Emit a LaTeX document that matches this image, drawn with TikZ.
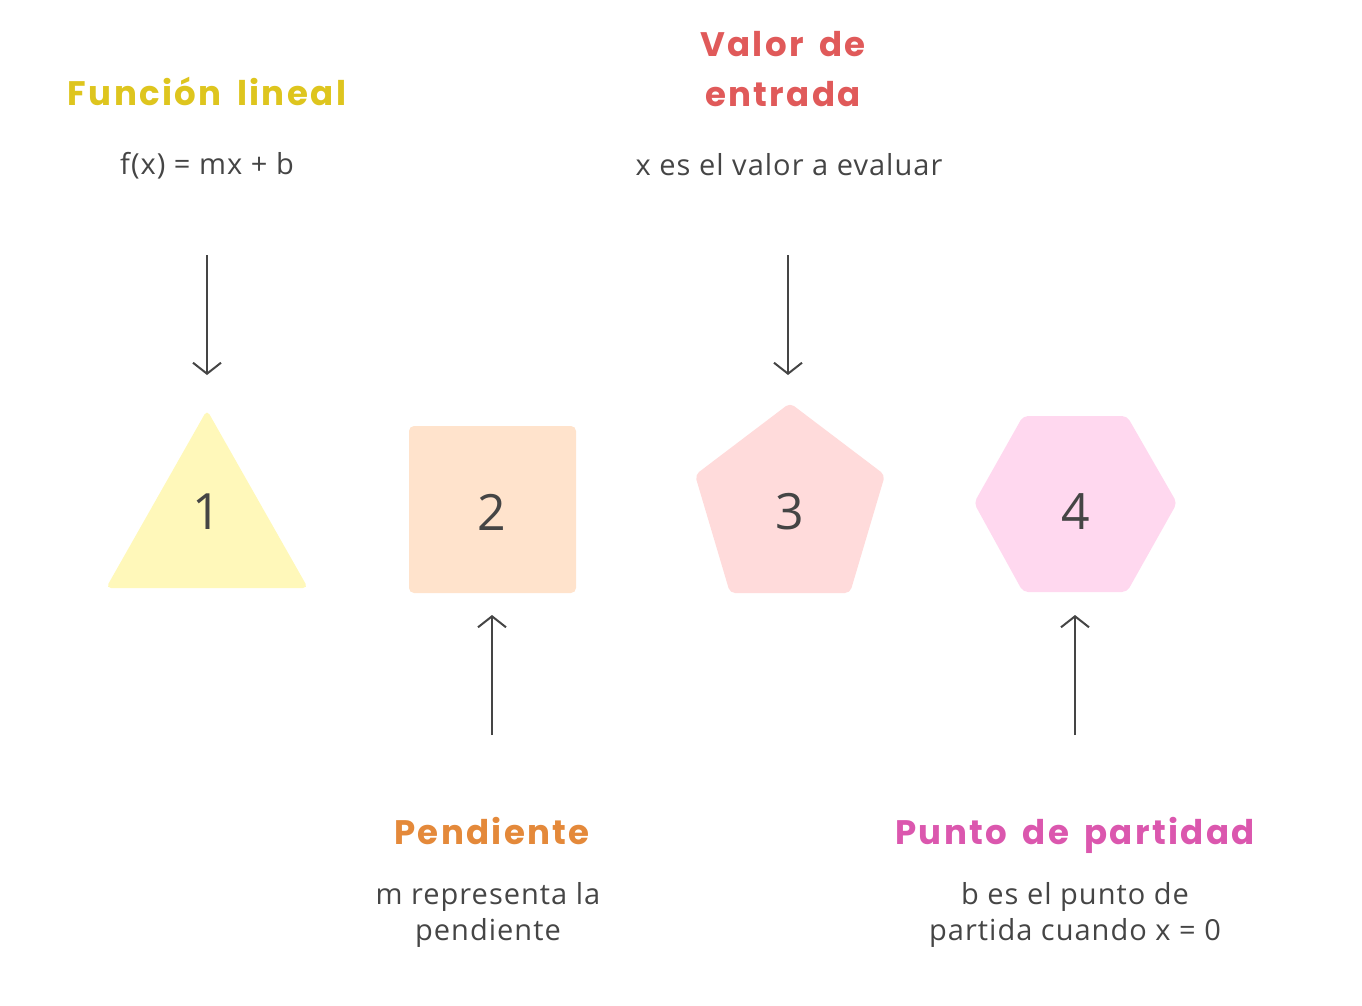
\documentclass[tikz,border=0pt]{standalone}
\usepackage{fontspec}
\setmainfont{Open Sans}[LetterSpace=3.5]
\newfontfamily\titlefont{Poppins}[LetterSpace=7,WordSpace=1.6]
\newfontfamily\numfont{Open Sans}
\usetikzlibrary{arrows.meta}
\definecolor{ink}{HTML}{454545}
\definecolor{tyellow}{HTML}{DEC51E}
\definecolor{tred}{HTML}{E05A5A}
\definecolor{torange}{HTML}{E4893A}
\definecolor{tpink}{HTML}{DB57AE}
\definecolor{fyellow}{HTML}{FFF8BA}
\definecolor{forange}{HTML}{FFE3CC}
\definecolor{fred}{HTML}{FFDBDB}
\definecolor{fpink}{HTML}{FFD8EF}
\tikzset{
  title/.style={font=\titlefont\bfseries\fontsize{34}{50}\selectfont, align=center, inner sep=0pt},
  body/.style={font=\fontsize{29}{36}\selectfont, text=ink, align=center, inner sep=0pt},
  shapefill/.style={rounded corners=5pt, draw=none},
  numlabel/.style={font=\numfont\fontsize{50}{52}\selectfont, text=ink, inner sep=0pt},
  link/.style={draw=ink, line width=2pt, -{Straight Barb[length=11pt,width=28pt,line width=2pt]}}
}
\begin{document}
\begin{tikzpicture}[x=1pt,y=-1pt]
\useasboundingbox (0,0) rectangle (1362,1006);
% shapes
\fill[fyellow, shapefill] (207,410) -- (308,588) -- (106,588) -- cycle;
\fill[forange, shapefill] (409,426) rectangle (576,593);
\fill[fred, shapefill] (790,403) -- (885,475) -- (850,593) -- (730,593) -- (695,475) -- cycle;
\fill[fpink, shapefill] (1023,416) -- (1127,416) -- (1177,503) -- (1127,592) -- (1023,592) -- (974,503) -- cycle;
\node[numlabel] (n1) at (207,512) {1};
\node[numlabel] (n2) at (492,512) {2};
\node[numlabel] (n3) at (790,512) {3};
\node[numlabel] (n4) at (1076,512) {4};
% top texts
\node[title, text=tyellow, anchor=base] (t1) at (207,106) {Función lineal};
\node[body, anchor=base] (b1) at (207,174) {f(x) = mx + b};
\node[title, text=tred] (t3) at (783,69) {Valor de\\entrada};
\node[body, anchor=base] (b3) at (789,175) {x es el valor a evaluar};
% bottom texts
\node[title, text=torange, anchor=base] (t2) at (492,844) {Pendiente};
\node[body] (b2) at (488,915) {m representa la\\pendiente};
\node[title, text=tpink, anchor=base] (t4) at (1075,844) {Punto de partidad};
\node[body] (b4) at (1075,915) {b es el punto de\\partida cuando x = 0};
% arrow endpoints
\coordinate (a1s) at (207,255); \coordinate (a1e) at (207,375);
\coordinate (a3s) at (788,255); \coordinate (a3e) at (788,375);
\coordinate (a2s) at (492,735); \coordinate (a2e) at (492,615);
\coordinate (a4s) at (1075,735); \coordinate (a4e) at (1075,615);
\draw[link] (a1s) -- (a1e);
\draw[link] (a3s) -- (a3e);
\draw[link] (a2s) -- (a2e);
\draw[link] (a4s) -- (a4e);
\end{tikzpicture}
\end{document}
